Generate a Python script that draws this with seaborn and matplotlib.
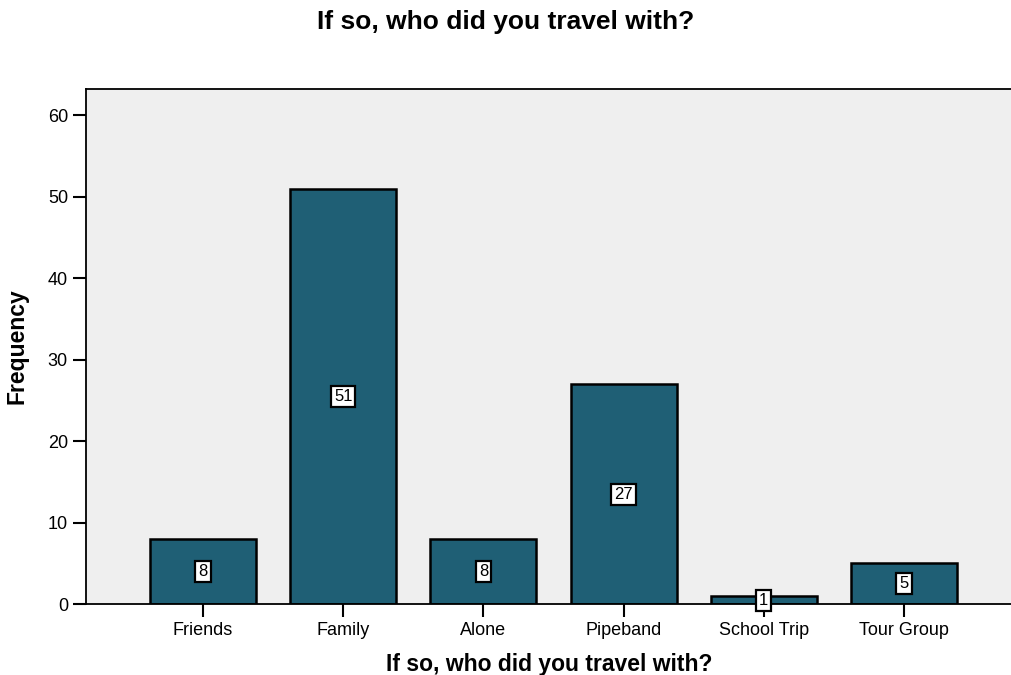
import pandas as pd
import matplotlib
matplotlib.use("Agg")
import matplotlib.pyplot as plt
import seaborn as sns

# DATA
categories = ['Friends', 'Family', 'Alone', 'Pipeband', 'School Trip', 'Tour Group']
counts = [8, 51, 8, 27, 1, 5]

df = pd.DataFrame({'who': categories, 'freq': counts})

sns.set_style("white")
plt.rcParams['font.family'] = ['Liberation Sans', 'DejaVu Sans']
plt.rcParams['text.color'] = 'black'
plt.rcParams['axes.labelcolor'] = 'black'
plt.rcParams['xtick.color'] = 'black'
plt.rcParams['ytick.color'] = 'black'

fig = plt.figure(figsize=(10.12, 6.75), dpi=100)
ax = fig.add_axes([0.085, 0.105, 0.915, 0.763])
ax.set_facecolor('#EFEFEF')

sns.barplot(
    data=df,
    x='who',
    y='freq',
    color='#1F5F75',
    saturation=1,
    width=0.755,
    edgecolor='black',
    linewidth=1.8,
    ax=ax
)

# value labels in the middle of each bar
for i, v in enumerate(counts):
    ax.text(
        i, v / 2, str(v),
        ha='center', va='center', fontsize=12,
        bbox=dict(boxstyle='square,pad=0.18', facecolor='white',
                  edgecolor='black', linewidth=1.6)
    )

ax.set_xlim(-0.834, 5.77)
ax.set_ylim(0, 63.2)
ax.set_yticks([0, 10, 20, 30, 40, 50, 60])

ax.spines['right'].set_visible(False)
for s in ['left', 'bottom', 'top']:
    ax.spines[s].set_color('black')
    ax.spines[s].set_linewidth(1.3)

ax.tick_params(axis='both', direction='out', length=9.5, width=1.5,
               labelsize=13, left=True, bottom=True)

ax.set_xlabel("If so, who did you travel with?", fontsize=16.5,
              fontweight='bold', labelpad=10)
ax.set_ylabel("Frequency", fontsize=16.5, fontweight='bold', labelpad=14)
fig.suptitle("If so, who did you travel with?", fontsize=19,
             fontweight='bold', y=0.985)

fig.savefig("out.png", dpi=100)
